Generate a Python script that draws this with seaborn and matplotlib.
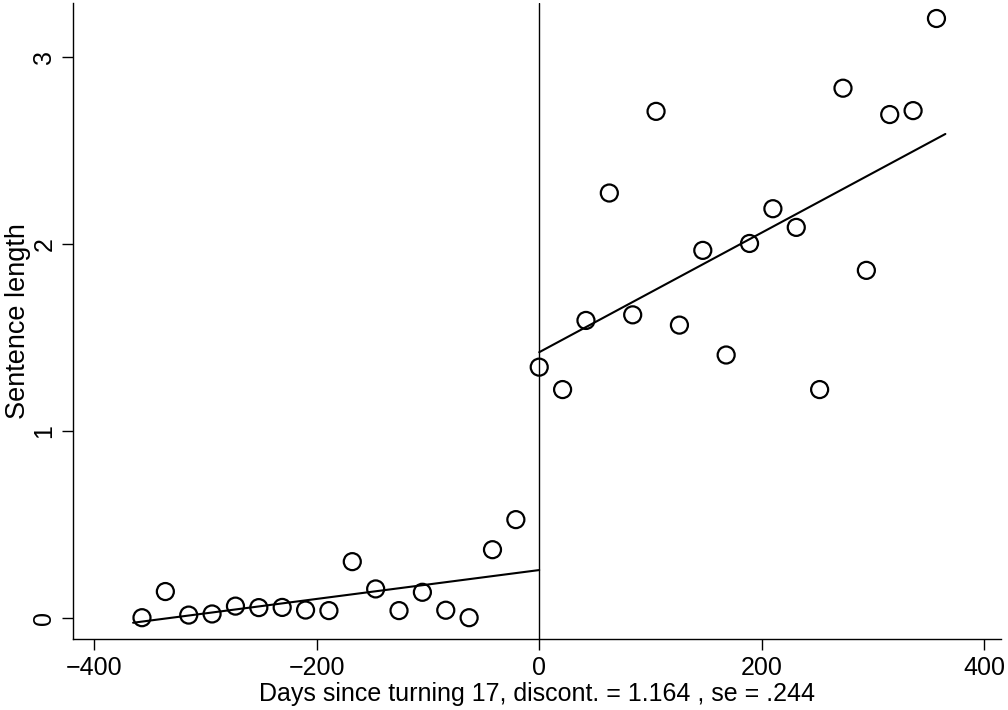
import matplotlib
matplotlib.use('Agg')
import matplotlib.pyplot as plt
import seaborn as sns
import pandas as pd

# binned means, left and right of the cutoff
days_left = [-357, -336, -315, -294, -273, -252, -231, -210, -189, -168,
             -147, -126, -105, -84, -63, -42, -21]
sent_left = [0.00, 0.14, 0.014, 0.02, 0.062, 0.054, 0.055, 0.041, 0.038, 0.30,
             0.154, 0.038, 0.136, 0.04, 0.00, 0.364, 0.525]
days_right = [0, 21, 42, 63, 84, 105, 126, 147, 168, 189,
              210, 231, 252, 273, 294, 315, 336, 357]
sent_right = [1.341, 1.221, 1.591, 2.273, 1.621, 2.710, 1.566, 1.966, 1.406, 2.003,
              2.189, 2.089, 1.221, 2.834, 1.859, 2.693, 2.714, 3.207]

# fitted lines (endpoints)
fit_left_x = [-365, 0]
fit_left_y = [-0.027, 0.255]
fit_right_x = [0, 365]
fit_right_y = [1.421, 2.589]

xticks = [-400, -200, 0, 200, 400]
yticks = [0, 1, 2, 3]

sns.set_style('white')
plt.rcParams['font.family'] = ['Liberation Sans', 'DejaVu Sans']
plt.rcParams['text.color'] = 'black'
plt.rcParams['axes.labelcolor'] = 'black'
plt.rcParams['xtick.color'] = 'black'
plt.rcParams['ytick.color'] = 'black'

pts = pd.DataFrame({'days': days_left + days_right,
                    'sent': sent_left + sent_right})

fig = plt.figure(figsize=(10.08, 7.10), dpi=100)
ax = fig.add_axes([73 / 1008, 71 / 710, 928 / 1008, 636 / 710])

sns.scatterplot(data=pts, x='days', y='sent', ax=ax, marker='o', s=150,
                facecolor='none', edgecolor='black', linewidth=1.6, zorder=3)
sns.lineplot(x=fit_left_x, y=fit_left_y, ax=ax, color='black', linewidth=1.5)
sns.lineplot(x=fit_right_x, y=fit_right_y, ax=ax, color='black', linewidth=1.5)
ax.axvline(0, color='black', linewidth=1.0)

ax.set_xlim(-419, 415)
ax.set_ylim(-0.114, 3.29)
ax.set_xticks(xticks)
ax.set_yticks(yticks)
ax.set_xticklabels([str(t).replace('-', '\u2212') for t in xticks])
ax.set_yticklabels([str(t) for t in yticks], rotation=90, va='center')

for side in ['top', 'right']:
    ax.spines[side].set_visible(False)
for side in ['left', 'bottom']:
    ax.spines[side].set_color('black')
    ax.spines[side].set_linewidth(1.0)

ax.tick_params(axis='both', direction='out', length=8, width=1.0,
               color='black', labelcolor='black', labelsize=18, pad=4,
               bottom=True, left=True)

ax.set_xlabel('Days since turning 17, discont. = 1.164 , se = .244',
              fontsize=18, labelpad=2)
ax.set_ylabel('Sentence length', fontsize=19.5, labelpad=1)

fig.savefig('out.png', dpi=100)
